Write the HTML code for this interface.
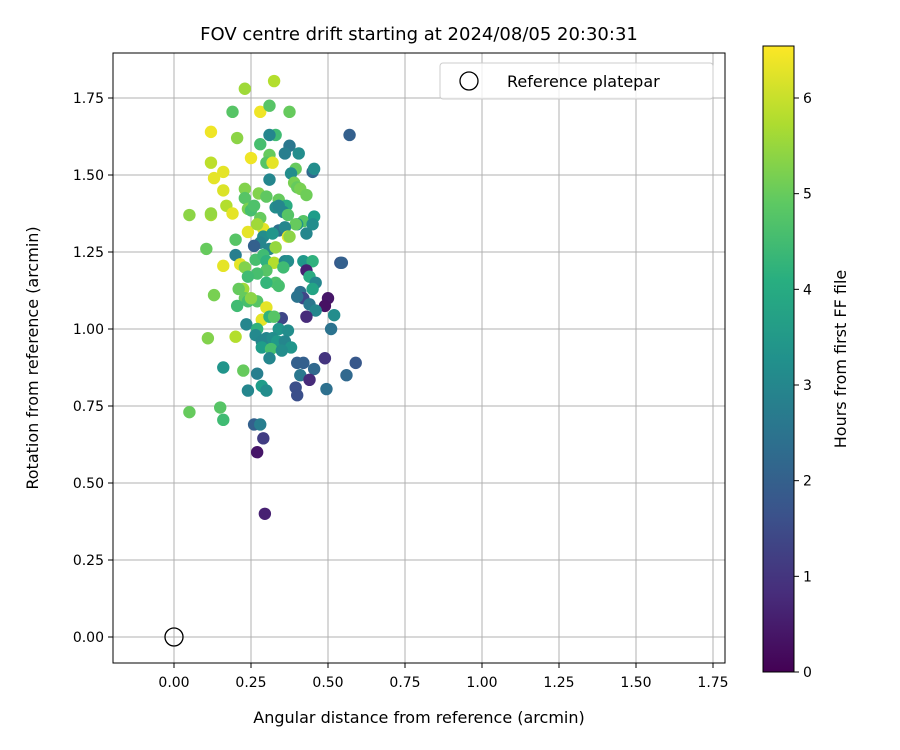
<!DOCTYPE html>
<html><head><meta charset="utf-8"><style>body{margin:0;background:#fff}svg{display:block;font-family:"DejaVu Sans","Liberation Sans",sans-serif}</style></head>
<body>
<svg id="chart" width="900" height="750" viewBox="0 0 900 750" xmlns="http://www.w3.org/2000/svg">
<defs><linearGradient id="vir" x1="0" y1="1" x2="0" y2="0">
<stop offset="0" stop-color="#440154"/><stop offset="0.125" stop-color="#472d7b"/><stop offset="0.25" stop-color="#3b528b"/><stop offset="0.375" stop-color="#2c728e"/><stop offset="0.5" stop-color="#21918c"/><stop offset="0.625" stop-color="#28ae80"/><stop offset="0.75" stop-color="#5ec962"/><stop offset="0.875" stop-color="#addc30"/><stop offset="1" stop-color="#fde725"/></linearGradient>
<clipPath id="pc"><rect x="113" y="53" width="612" height="610"/></clipPath></defs>
<text x="419" y="40" font-size="18" text-anchor="middle">FOV centre drift starting at 2024/08/05 20:30:31</text>
<g id="grid"></g>
<g id="ticks"></g>
<g id="pts" clip-path="url(#pc)"></g>
<rect x="113" y="53" width="612" height="610" fill="none" stroke="#000" stroke-width="1"/>
<g>
<rect x="440" y="63" width="273" height="36" rx="3" fill="#fff" fill-opacity="0.8" stroke="#ccc"/>
<circle cx="469" cy="81" r="9" fill="none" stroke="#000" stroke-width="1.3"/>
<text x="507" y="87" font-size="16">Reference platepar</text></g>
<text x="419" y="723" font-size="16" text-anchor="middle">Angular distance from reference (arcmin)</text>
<text transform="translate(38,358) rotate(-90)" font-size="16" text-anchor="middle">Rotation from reference (arcmin)</text>
<rect x="763" y="46" width="31" height="626" fill="url(#vir)" stroke="#000" stroke-width="1"/>
<g id="cbt"></g>
<text transform="translate(846,359) rotate(-90)" font-size="16" text-anchor="middle">Hours from first FF file</text>
</svg>
<script>
const xTicks=[0,0.25,0.5,0.75,1,1.25,1.5,1.75];
const yTicks=[0,0.25,0.5,0.75,1,1.25,1.5,1.75];
const cTicks=[0,1,2,3,4,5,6];
const refX=[0], refY=[0];
const xs=[0.23,0.325,0.19,0.28,0.31,0.375,0.12,0.205,0.33,0.31,0.28,0.57,0.375,0.36,0.405,0.31,0.12,0.16,0.13,0.25,0.30,0.32,0.395,0.38,0.45,0.455,0.31,0.39,0.40,0.41,0.16,0.23,0.23,0.275,0.30,0.34,0.365,0.355,0.43,0.17,0.19,0.05,0.12,0.12,0.24,0.25,0.26,0.28,0.33,0.34,0.37,0.42,0.455,0.45,0.40,0.395,0.43,0.24,0.29,0.27,0.29,0.34,0.36,0.37,0.375,0.32,0.20,0.105,0.20,0.28,0.26,0.31,0.33,0.215,0.16,0.23,0.265,0.29,0.30,0.325,0.36,0.37,0.42,0.45,0.54,0.545,0.43,0.355,0.30,0.27,0.24,0.225,0.21,0.44,0.46,0.33,0.34,0.30,0.45,0.41,0.42,0.40,0.50,0.49,0.44,0.13,0.23,0.24,0.27,0.25,0.205,0.30,0.46,0.52,0.43,0.35,0.285,0.31,0.325,0.235,0.27,0.34,0.37,0.51,0.11,0.20,0.265,0.285,0.30,0.32,0.335,0.36,0.38,0.285,0.315,0.35,0.31,0.40,0.42,0.49,0.59,0.16,0.225,0.27,0.455,0.41,0.56,0.395,0.44,0.495,0.40,0.24,0.285,0.30,0.05,0.15,0.16,0.26,0.28,0.29,0.27,0.295];
const ys=[1.78,1.805,1.705,1.705,1.725,1.705,1.64,1.62,1.63,1.63,1.60,1.63,1.595,1.57,1.57,1.565,1.54,1.51,1.49,1.555,1.54,1.54,1.52,1.505,1.51,1.52,1.485,1.475,1.46,1.455,1.45,1.455,1.425,1.44,1.43,1.42,1.40,1.38,1.435,1.40,1.375,1.37,1.37,1.375,1.39,1.385,1.40,1.36,1.395,1.40,1.37,1.35,1.365,1.34,1.34,1.34,1.31,1.315,1.325,1.34,1.30,1.32,1.33,1.30,1.30,1.31,1.29,1.26,1.24,1.28,1.27,1.26,1.265,1.21,1.205,1.20,1.225,1.24,1.22,1.215,1.22,1.22,1.22,1.22,1.215,1.215,1.19,1.20,1.19,1.18,1.17,1.13,1.13,1.17,1.15,1.15,1.14,1.15,1.13,1.12,1.10,1.105,1.10,1.075,1.08,1.11,1.10,1.09,1.09,1.10,1.075,1.07,1.06,1.045,1.04,1.035,1.03,1.04,1.04,1.015,1.00,1.00,0.995,1.00,0.97,0.975,0.98,0.96,0.97,0.97,0.96,0.96,0.94,0.94,0.935,0.93,0.905,0.89,0.89,0.905,0.89,0.875,0.865,0.855,0.87,0.85,0.85,0.81,0.835,0.805,0.785,0.80,0.815,0.80,0.73,0.745,0.705,0.69,0.69,0.645,0.60,0.40];
const hours=[5.6,5.8,4.8,6.4,4.8,5.0,6.4,5.4,4.5,3.0,4.6,2.0,2.6,2.8,3.2,5.0,5.9,6.3,6.3,6.4,4.8,6.3,5.0,3.2,2.2,3.2,3.0,5.2,5.0,5.2,6.2,5.3,4.8,5.3,4.9,5.0,4.0,3.0,5.1,5.8,6.3,5.4,5.7,5.5,5.2,4.6,4.7,5.0,3.2,3.0,4.8,4.8,3.6,3.2,3.4,5.0,3.0,6.3,6.3,5.6,3.2,2.4,3.0,6.3,5.4,3.4,4.8,5.0,2.8,3.0,2.0,3.0,5.5,6.3,6.3,5.3,4.6,4.5,4.2,5.8,3.0,3.2,3.5,4.2,1.8,2.0,0.6,4.5,4.8,4.6,4.5,5.6,5.0,4.0,3.0,4.7,4.6,4.3,3.8,2.4,1.4,2.5,0.4,0.3,2.6,5.2,5.0,4.6,4.8,5.4,4.5,6.3,3.0,3.2,0.8,1.4,6.3,4.2,4.8,3.0,4.2,3.4,3.2,2.5,5.3,5.8,3.1,3.0,3.0,3.2,3.5,3.0,3.4,3.6,4.6,3.2,3.0,2.0,2.0,1.0,1.8,3.4,5.0,2.8,2.2,2.6,2.2,1.6,0.8,2.4,1.6,3.0,3.6,3.2,5.0,4.8,4.5,2.0,2.8,1.2,0.4,0.6];
const NS="http://www.w3.org/2000/svg";
const X=v=>174+v*308, Y=v=>637-v*308, C=h=>672-h*(574/6);
const vstops=[[68,1,84],[72,40,120],[62,73,137],[49,104,142],[38,130,142],[31,158,137],[53,183,121],[109,205,89],[180,222,44],[253,231,37]];
function vir(t){t=Math.max(0,Math.min(1,t))*(vstops.length-1);const i=Math.min(Math.floor(t),vstops.length-2),f=t-i;const a=vstops[i],b=vstops[i+1];return `rgb(${a.map((c,k)=>Math.round(c+(b[k]-c)*f)).join(',')})`;}
function mk(tag,at,parent){const e=document.createElementNS(NS,tag);for(const k in at)e.setAttribute(k,at[k]);parent.appendChild(e);return e;}
const grid=document.getElementById('grid'),tk=document.getElementById('ticks'),pts=document.getElementById('pts'),cbt=document.getElementById('cbt');
xTicks.forEach(v=>{const l=mk('line',{x1:X(v),x2:X(v),y1:53,y2:663,stroke:'#b0b0b0','stroke-width':1},grid);

mk('line',{x1:X(v),x2:X(v),y1:663,y2:668,stroke:'#000'},tk);
const t=mk('text',{x:X(v),y:687,'font-size':14,'text-anchor':'middle'},tk);t.textContent=v.toFixed(2);
});
yTicks.forEach(v=>{const l=mk('line',{x1:113,x2:725,y1:Y(v),y2:Y(v),stroke:'#b0b0b0','stroke-width':1},grid);

mk('line',{x1:108,x2:113,y1:Y(v),y2:Y(v),stroke:'#000'},tk);
const t=mk('text',{x:104,y:Y(v)+5,'font-size':14,'text-anchor':'end'},tk);t.textContent=v.toFixed(2);
});
xs.forEach((x,i)=>{const c=mk('circle',{cx:X(x),cy:Y(ys[i]),r:6.2,fill:vir(hours[i]/6.54)},pts);
});
refX.forEach((x,i)=>{const c=mk('circle',{cx:X(x),cy:Y(refY[i]),r:9,fill:'none',stroke:'#000','stroke-width':1.3},pts);
});
cTicks.forEach(v=>{mk('line',{x1:794,x2:799,y1:C(v),y2:C(v),stroke:'#000'},cbt);
const t=mk('text',{x:803,y:C(v)+5,'font-size':14},cbt);t.textContent=v;
});
</script>
</body></html>
